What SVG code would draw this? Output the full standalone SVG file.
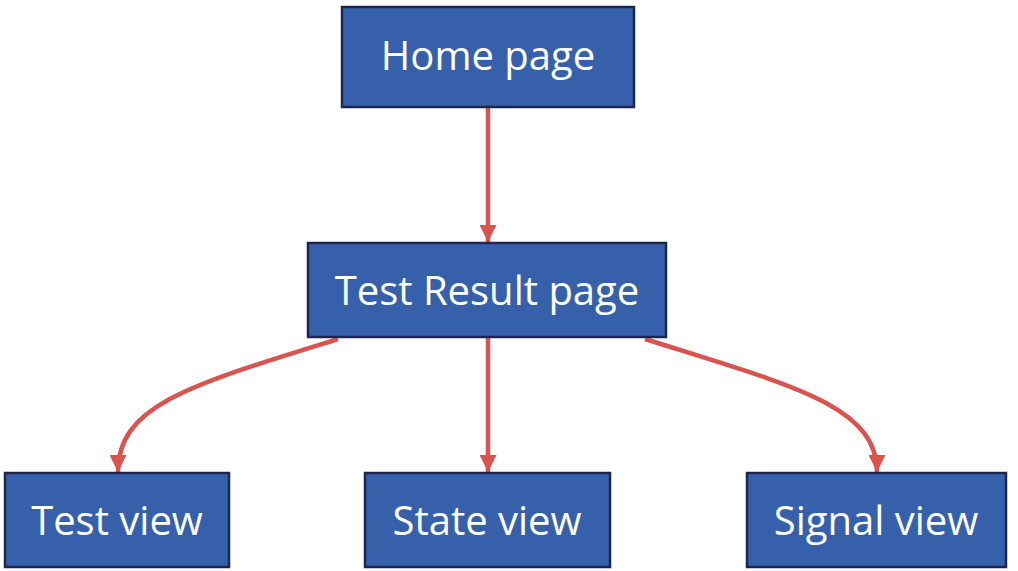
<svg xmlns="http://www.w3.org/2000/svg" width="1018" height="571" viewBox="0 0 1018 571">
<defs>
<style>
.node rect{fill:#3760aa;stroke:#1e2650;stroke-width:2.5}
.node text{fill:#ffffff;font-family:"Open Sans","DejaVu Sans",sans-serif;font-size:40px;font-weight:normal;text-anchor:middle;dominant-baseline:central}
.edge{fill:none;stroke:#d9534f;stroke-width:4.5}
</style>
<marker id="arrow" viewBox="0 0 10 10" refX="10" refY="5" markerUnits="userSpaceOnUse" markerWidth="17" markerHeight="17" orient="auto">
<path d="M0,0 L10,5 L0,10 z" fill="#d9534f"/>
</marker>
</defs>
<rect width="1018" height="571" fill="#ffffff"/>
<g id="connectors">
<path class="edge" d="M488,108 L488,242" marker-end="url(#arrow)"/>
<path class="edge" d="M338,339 C190,385 118,405 118,472" marker-end="url(#arrow)"/>
<path class="edge" d="M488,338 L488,472" marker-end="url(#arrow)"/>
<path class="edge" d="M645,339 C790,385 877,405 877,472" marker-end="url(#arrow)"/>
</g>
<g id="home" class="node"><rect x="342" y="7" width="292" height="100"/><text x="488" y="54">Home page</text></g>
<g id="result" class="node"><rect x="308" y="243" width="358" height="94"/><text x="487" y="289">Test Result page</text></g>
<g id="testview" class="node"><rect x="5" y="473" width="224" height="94"/><text x="117" y="519">Test view</text></g>
<g id="stateview" class="node"><rect x="365" y="473" width="245" height="94"/><text x="487" y="519">State view</text></g>
<g id="signalview" class="node"><rect x="747" y="473" width="259" height="94"/><text x="876" y="519">Signal view</text></g>
</svg>
